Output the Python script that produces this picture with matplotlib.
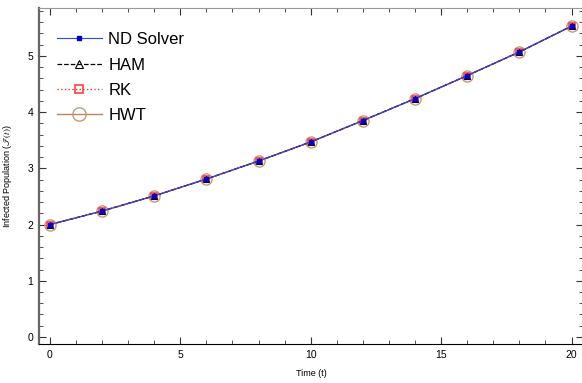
import numpy as np
import matplotlib
matplotlib.use("Agg")
import matplotlib.pyplot as plt
from matplotlib.ticker import MultipleLocator

# values (markers every 2 time units)
t = [0, 2, 4, 6, 8, 10, 12, 14, 16, 18, 20]
nd_solver = [2.00, 2.24, 2.51, 2.81, 3.13, 3.47, 3.85, 4.24, 4.65, 5.07, 5.53]
ham = nd_solver
rk = nd_solver
hwt = nd_solver

plt.rcParams["font.family"] = ["Liberation Sans", "DejaVu Sans"]
plt.rcParams["mathtext.fontset"] = "stix"

fig = plt.figure(figsize=(5.82, 3.83), dpi=100)
ax = fig.add_axes([0.067, 0.1018, 0.9347, 0.877])

h4, = ax.plot(t, hwt, "-", color="#b8865a", lw=1.0, marker="o", ms=8,
              mfc="none", mec="#c49a74", mew=1.0, label="HWT")
h3, = ax.plot(t, rk, ":", color="#ff3030", lw=1.0, marker="s", ms=5,
              mfc="none", mec="#ff4040", mew=1.2, label="RK")
h2, = ax.plot(t, ham, "--", color="black", lw=0.9, marker="^", ms=4.5,
              mfc="none", mec="black", mew=0.8, label="HAM")
h1, = ax.plot(t, nd_solver, "-", color="#3344ee", lw=0.8, marker="s", ms=2.5,
              mfc="#0000cc", mec="#0000cc", label="ND Solver")

ax.set_xlim(-0.42, 20.44)
ax.set_ylim(-0.125, 5.85)
ax.xaxis.set_major_locator(MultipleLocator(5))
ax.xaxis.set_minor_locator(MultipleLocator(1))
ax.yaxis.set_major_locator(MultipleLocator(1))
ax.yaxis.set_minor_locator(MultipleLocator(0.2))
ax.tick_params(which="both", direction="in", top=True, right=True,
               labelsize=7.5, color="#333333", pad=4)
ax.tick_params(which="major", length=5, width=0.8)
ax.tick_params(which="minor", length=3, width=0.6)
for side in ["top", "bottom", "right"]:
    ax.spines[side].set_linewidth(0.8)
ax.spines["left"].set_linewidth(1.6)
ax.spines["left"].set_color("#666666")
ax.spines["top"].set_color("#999999")

ax.set_xlabel("Time (t)", fontsize=6.5, labelpad=7)
ax.set_ylabel(r"Infected Population ($\mathscr{I}(t)$)", fontsize=6.5, labelpad=10)

ax.legend(handles=[h1, h2, h3, h4], loc="upper left", frameon=False,
          fontsize=12, handlelength=2.7, labelspacing=0.62, handletextpad=0.4,
          borderaxespad=0.0, bbox_to_anchor=(0.02, 0.948), markerscale=1.2)

fig.savefig("out.png", dpi=100)
